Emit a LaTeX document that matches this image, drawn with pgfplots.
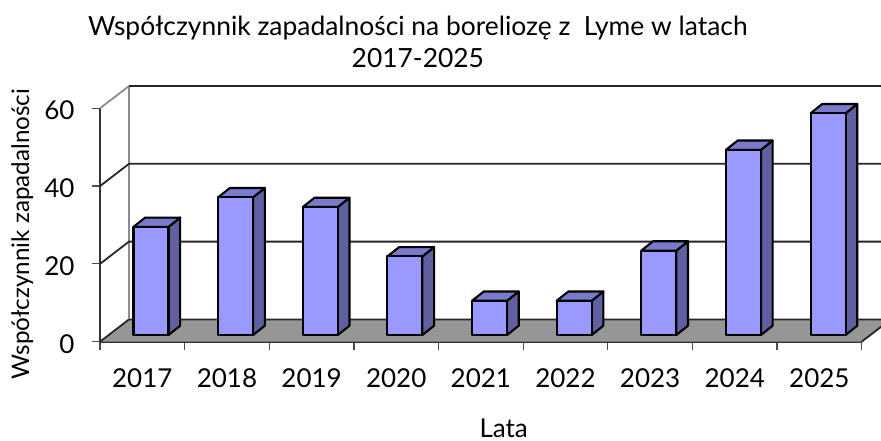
\documentclass[border=0pt]{standalone}
\usepackage{pgfplots}
\usepackage{fontspec}
\setmainfont{Lato}
\pgfplotsset{compat=1.18}

\definecolor{barfront}{HTML}{9999FF}
\definecolor{bartop}{HTML}{7A7ACC}
\definecolor{barside}{HTML}{6060A0}
\definecolor{floorgray}{HTML}{969696}
\definecolor{wallgray}{HTML}{8C8C8C}

% side and top face of one bar: #1 category index, #2 value
\newcommand{\barfaces}[2]{%
  \pgfmathsetmacro\xl{#1+0.396}%
  \pgfmathsetmacro\xr{#1+0.8096}%
  \pgfmathsetmacro\xrb{\xr+0.138}%
  \pgfmathsetmacro\xlb{\xl+0.138}%
  \pgfmathsetmacro\yt{#2+1.72}%
  \pgfmathsetmacro\ytb{\yt+2.39}%
  \edef\temp{\noexpand\addplot[fill=barside,draw=black,line width=2.1pt,line join=round]
    coordinates {(\xr,1.72) (\xrb,4.11) (\xrb,\ytb) (\xr,\yt)} -- cycle;
    \noexpand\addplot[fill=bartop,draw=black,line width=2.1pt,line join=round]
    coordinates {(\xl,\yt) (\xr,\yt) (\xrb,\ytb) (\xlb,\ytb)} -- cycle;}%
  \temp
}

\begin{document}
\begin{tikzpicture}[x=1pt,y=1pt]
\path[use as bounding box,clip] (0,0) rectangle (881,441);
\begin{axis}[
    at={(100pt,99.3pt)},anchor=south west,
    scale only axis,width=761.7pt,height=233.4pt,
    xmin=0,xmax=9,ymin=0,ymax=60,
    clip=false,
    axis x line*=bottom,axis y line*=left,
    axis line style={-,black!80,line width=1.8pt},
    xtick={0.5,1.5,2.5,3.5,4.5,5.5,6.5,7.5,8.5},
    xticklabels={2017,2018,2019,2020,2021,2022,2023,2024,2025},
    minor xtick={0,1,2,3,4,5,6,7,8,9},
    ytick={0,20,40,60},
    tick align=outside,
    major tick length=8pt,minor tick length=8pt,
    xtick style={draw=none},
    minor x tick style={draw=black!70,line width=1.2pt},
    ytick style={draw=black!70,line width=1.2pt},
    /pgf/number format/assume math mode=true,
    tick label style={font=\fontsize{26}{30}\selectfont},
    xticklabel style={anchor=base,yshift=-38pt},
    yticklabel style={xshift=-14pt,yshift=-2pt},
    title={Współczynnik zapadalności na boreliozę z\ \ Lyme w latach\\2017-2025},
    title style={align=center,font=\fontsize{26.4}{32}\selectfont,
      at={(rel axis cs:0.4173,1.2604)},anchor=center},
    xlabel={Lata},
    xlabel style={font=\fontsize{26}{30}\selectfont,inner sep=0pt,
      at={(rel axis cs:0.53,-0.409)},anchor=base},
    ylabel={Współczynnik zapadalności},
    ylabel style={font=\fontsize{24.2}{30}\selectfont,
      at={(rel axis cs:-0.102,0.4614)},anchor=center},
]
% floor
\addplot[fill=floorgray,draw=none] coordinates {(0,0) (9,0) (9.3427,5.73) (0.3427,5.73)} -- cycle;
\addplot[black!85,line width=1.8pt] coordinates {(0,0) (0.3427,5.73) (9.3427,5.73) (9,0)};
% walls and grid
\addplot[wallgray,line width=1.8pt] coordinates {(0.3427,5.73) (0.3427,65.73)};
\addplot[wallgray,line width=1.8pt] coordinates {(0,60) (0.3427,65.73)};
\addplot[black!85,line width=1.8pt] coordinates {(0.3427,65.73) (9.3427,65.73)};
\addplot[black!85,line width=1.8pt] coordinates {(0,40) (0.3427,45.73) (9.3427,45.73)};
\addplot[black!85,line width=1.8pt] coordinates {(0,20) (0.3427,25.73) (9.3427,25.73)};
% bars
\barfaces{0}{27.8}
\barfaces{1}{35.4}
\barfaces{2}{32.9}
\barfaces{3}{20.2}
\barfaces{4}{8.8}
\barfaces{5}{8.8}
\barfaces{6}{21.7}
\barfaces{7}{47.6}
\barfaces{8}{57.0}
\addplot[ybar,bar width=35pt,bar shift=0pt,xshift=8.7pt,yshift=6.7pt,
  fill=barfront,draw=black,line width=2.1pt,line join=round] coordinates {
  (0.5,27.8) (1.5,35.4) (2.5,32.9) (3.5,20.2) (4.5,8.8)
  (5.5,8.8) (6.5,21.7) (7.5,47.6) (8.5,57.0)};
\end{axis}
\end{tikzpicture}
\end{document}
